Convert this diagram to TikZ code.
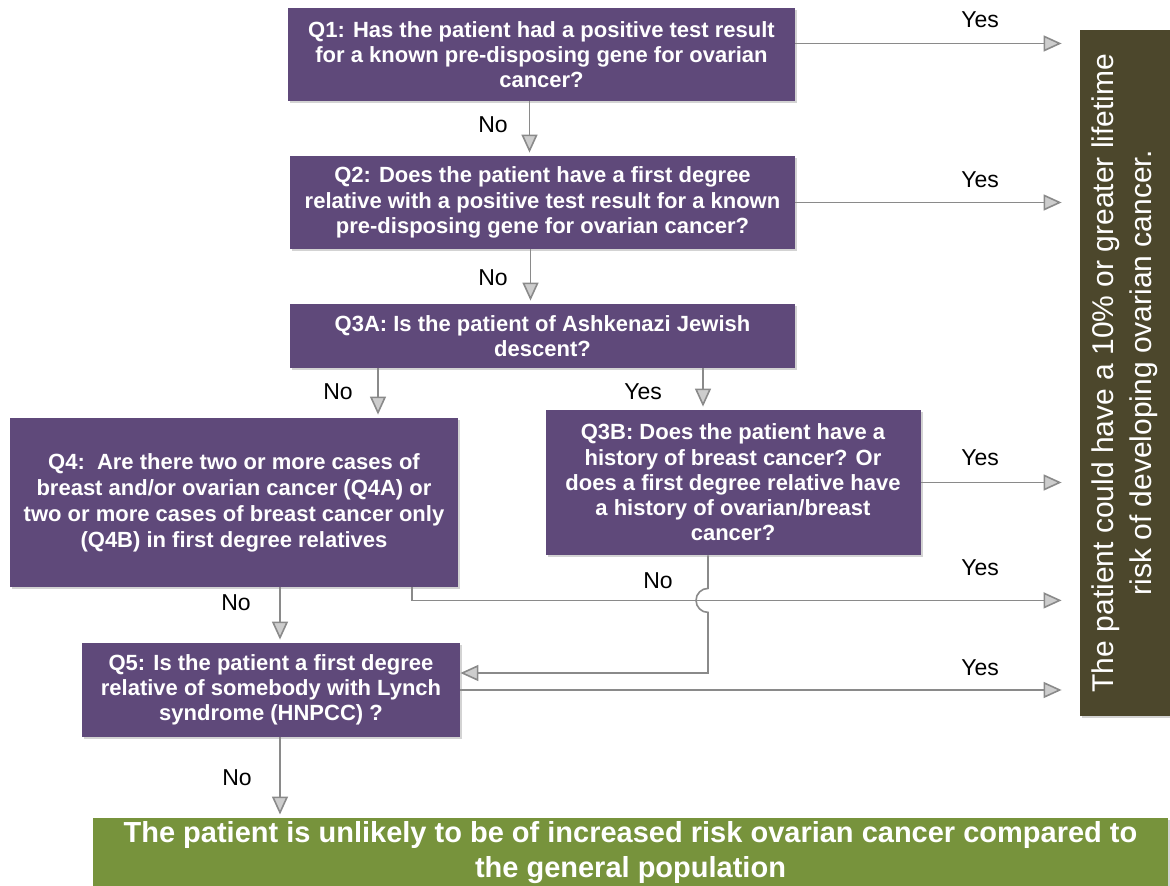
\documentclass[tikz,border=0pt]{standalone}
\usepackage{fontspec}
\setmainfont{Liberation Sans}
\usepackage{graphicx}
\usetikzlibrary{arrows.meta,shadows}

\definecolor{qpurple}{RGB}{95,73,122}
\definecolor{riskolive}{RGB}{76,71,44}
\definecolor{lowgreen}{RGB}{119,147,60}
\definecolor{linegray}{RGB}{138,138,138}
\definecolor{tipgray}{RGB}{205,205,205}

\begin{document}
\begin{tikzpicture}[x=0.5pt,y=-0.5pt,
    qbox/.style={fill=qpurple, text=white, align=center, inner sep=2pt,
      font=\bfseries\fontsize{11}{12.6}\selectfont,
      drop shadow={shadow xshift=1.2pt,shadow yshift=-1.2pt,opacity=0.35}},
    link/.style={draw=linegray, line width=0.8pt, shorten >=1.5pt,
      -{Triangle[length=9pt,width=8pt,fill=tipgray]}},
    lbl/.style={font=\fontsize{11.5}{13}\selectfont, inner sep=0pt}]
  \useasboundingbox (0,0) rectangle (1170,886);

  % question boxes
  \node[qbox, minimum width=253.5pt, minimum height=46.5pt] (q1) at (541.5,54.5)
    {Q1: Has the patient had a positive test result\\for a known pre-disposing gene for ovarian\\cancer?};
  \node[qbox, minimum width=252.5pt, minimum height=46.5pt] (q2) at (542.5,202.5)
    {Q2: Does the patient have a first degree\\relative with a positive test result for a known\\pre-disposing gene for ovarian cancer?};
  \node[qbox, minimum width=252.5pt, minimum height=32pt] (q3a) at (542.5,336)
    {Q3A: Is the patient of Ashkenazi Jewish\\descent?};
  \node[qbox, minimum width=187.5pt, minimum height=72.5pt] (q3b) at (733,482.5)
    {Q3B: Does the patient have a\\history of breast cancer? Or\\does a first degree relative have\\a history of ovarian/breast\\cancer?};
  \node[qbox, minimum width=224pt, minimum height=84.5pt,
    font=\bfseries\fontsize{11}{13}\selectfont] (q4) at (234,502.5)
    {Q4:\ \ Are there two or more cases of\\breast and/or ovarian cancer (Q4A) or\\two or more cases of breast cancer only\\(Q4B) in first degree relatives};
  \node[qbox, minimum width=189pt, minimum height=47pt] (q5) at (271,690)
    {Q5: Is the patient a first degree\\relative of somebody with Lynch\\syndrome (HNPCC) ?};

  % outcome boxes
  \node[qbox, fill=riskolive, inner sep=0pt, minimum width=45pt, minimum height=343pt,
    font=\fontsize{15}{18.5}\selectfont] (risk) at (1125,373)
    {\rotatebox{90}{\begin{tabular}{@{}c@{}}The patient could have a 10\% or greater lifetime\\[0.5pt]risk of developing ovarian cancer.\end{tabular}}};
  \node[qbox, fill=lowgreen, minimum width=537.5pt, minimum height=32pt,
    font=\bfseries\fontsize{14.5}{17.5}\selectfont] (low) at (630.5,853)
    {The patient is unlikely to be of increased risk ovarian cancer compared to\\the general population};

  % yes branches
  \draw[link, shorten >=9pt] ([yshift=5.5pt]q1.east) -- ([yshift=5.5pt]q1.east -| risk.west);
  \draw[link, shorten >=9pt] (q2.east) -- (q2.east -| risk.west);
  \draw[link, shorten >=9pt] (q3b.east) -- (q3b.east -| risk.west);
  \draw[link, shorten >=9pt] ([xshift=89pt]q4.south) -- ++(0,-6.5pt) coordinate (q4bend)
    -- (q4bend -| risk.west);
  \draw[link, shorten >=9pt] (q5.east) -- (q5.east -| risk.west);
  \draw[link] ([xshift=80.25pt]q3a.south) -- ([xshift=80.25pt]q3a.south |- q3b.north);

  % no branches
  \draw[link] ([xshift=-6pt]q1.south) -- ([xshift=-6pt]q1.south |- q2.north);
  \draw[link] ([xshift=-6pt]q2.south) -- ([xshift=-6pt]q2.south |- q3a.north);
  \draw[link] ([xshift=-82.25pt]q3a.south) -- ([xshift=-82.25pt]q3a.south |- q4.north);
  \draw[link] ([xshift=23pt]q4.south) -- ([xshift=23pt]q4.south |- q5.north);
  \draw[link] ([xshift=4.5pt]q5.south) -- ([xshift=4.5pt]q5.south |- low.north);
  \draw[link, shorten >=0pt] ([xshift=-12.5pt]q3b.south) -- ++(0,-16.5pt)
    arc[start angle=90, end angle=270, radius=6pt] |- ([yshift=8.5pt]q5.east);

  % labels
  \node[lbl] (yes1) at (980,20) {Yes};
  \node[lbl] (yes2) at (980,180) {Yes};
  \node[lbl] (yes3) at (643,392) {Yes};
  \node[lbl] (yes4) at (980,458) {Yes};
  \node[lbl] (yes5) at (980,568) {Yes};
  \node[lbl] (yes6) at (980,668) {Yes};
  \node[lbl] (no1) at (493,125) {No};
  \node[lbl] (no2) at (493,278) {No};
  \node[lbl] (no3) at (338,392) {No};
  \node[lbl] (no4) at (658,581) {No};
  \node[lbl] (no5) at (236,603) {No};
  \node[lbl] (no6) at (237,778) {No};
\end{tikzpicture}
\end{document}
